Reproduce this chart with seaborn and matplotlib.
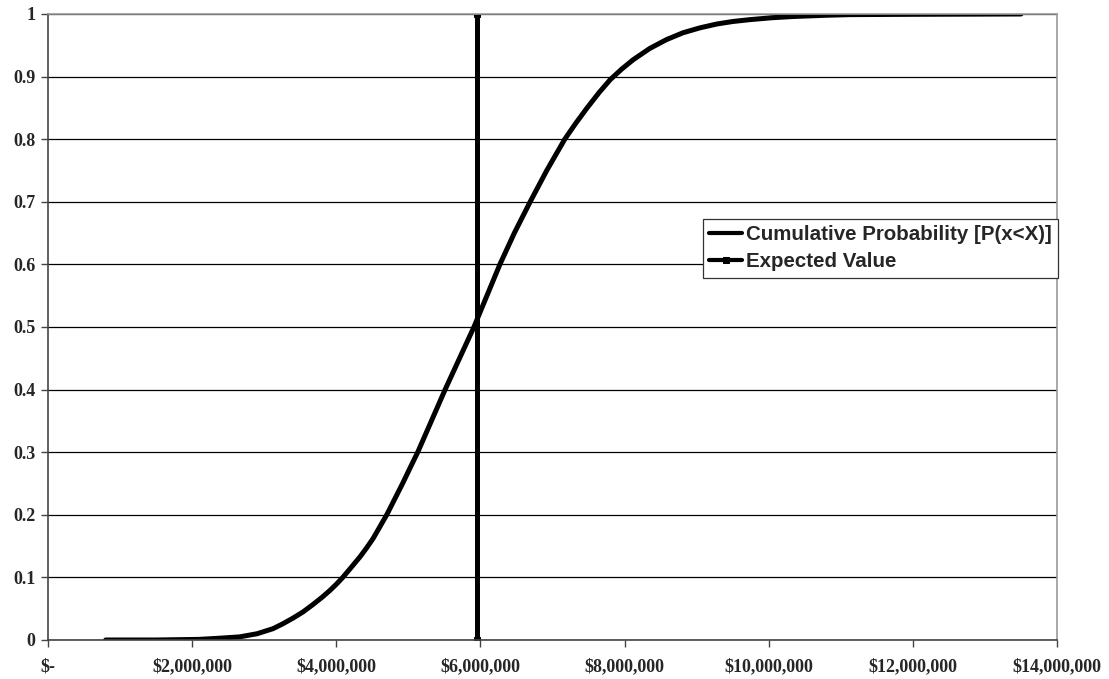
import matplotlib
matplotlib.use("Agg")
import matplotlib.pyplot as plt
import seaborn as sns
import pandas as pd
from matplotlib.ticker import FuncFormatter, MultipleLocator

# Data (x in dollars)
cum_x = [0.80e6, 1.50e6, 2.10e6, 2.40e6, 2.66e6, 2.90e6, 3.12e6, 3.26e6, 3.40e6,
         3.54e6, 3.68e6, 3.80e6, 3.91e6, 4.00e6, 4.09e6, 4.20e6, 4.33e6, 4.42e6,
         4.51e6, 4.60e6, 4.70e6, 4.81e6, 4.92e6, 5.02e6, 5.13e6, 5.32e6, 5.51e6,
         5.71e6, 5.91e6, 6.09e6, 6.27e6, 6.47e6, 6.69e6, 6.92e6, 7.17e6, 7.32e6,
         7.48e6, 7.65e6, 7.80e6, 7.96e6, 8.12e6, 8.35e6, 8.58e6, 8.81e6, 9.05e6,
         9.28e6, 9.50e6, 9.74e6, 10.04e6, 10.34e6, 10.80e6, 11.13e6, 12.00e6,
         13.50e6]
cum_y = [0.000, 0.000, 0.001, 0.003, 0.005, 0.010, 0.018, 0.026, 0.035,
         0.045, 0.057, 0.068, 0.079, 0.089, 0.100, 0.115, 0.133, 0.147,
         0.162, 0.180, 0.200, 0.225, 0.250, 0.274, 0.300, 0.350, 0.400,
         0.450, 0.500, 0.550, 0.600, 0.650, 0.700, 0.750, 0.800, 0.825,
         0.850, 0.875, 0.895, 0.912, 0.927, 0.945, 0.959, 0.970, 0.978,
         0.984, 0.988, 0.991, 0.994, 0.996, 0.998, 0.999, 0.9995,
         1.000]
ev_x = [5.95e6, 5.95e6]
ev_y = [0.0, 1.0]

cum_df = pd.DataFrame({"x": cum_x, "y": cum_y})
ev_df = pd.DataFrame({"x": ev_x, "y": ev_y})

sns.set_style("white")
plt.rcParams["font.family"] = ["Liberation Serif", "DejaVu Serif"]
plt.rcParams["font.weight"] = "bold"

fig = plt.figure(figsize=(11.09, 6.79), dpi=100)
ax = fig.add_axes([48 / 1109, 39 / 679, (1057 - 48) / 1109, (640 - 14) / 679])

sns.lineplot(data=cum_df, x="x", y="y", ax=ax, color="black", linewidth=3.6,
             label="Cumulative Probability [P(x<X)]", sort=False,
             estimator=None, errorbar=None)
sns.lineplot(data=ev_df, x="x", y="y", ax=ax, color="black", linewidth=3.6,
             marker="s", markersize=5, markeredgecolor="black",
             label="Expected Value", sort=False, estimator=None, errorbar=None)

ax.set_xlim(0, 14e6)
ax.set_ylim(0, 1)
ax.xaxis.set_major_locator(MultipleLocator(2e6))
ax.yaxis.set_major_locator(MultipleLocator(0.1))


def money(v, pos):
    if abs(v) < 1:
        return "$-"
    return "${:,.0f}".format(v)


def yfmt(v, pos):
    s = "{:.1f}".format(v)
    if s.endswith(".0"):
        s = s[:-2]
    return s


ax.xaxis.set_major_formatter(FuncFormatter(money))
ax.yaxis.set_major_formatter(FuncFormatter(yfmt))
ax.set_xlabel("")
ax.set_ylabel("")

ax.yaxis.grid(True, color="black", linewidth=0.9)
ax.xaxis.grid(False)
ax.set_axisbelow(True)

for side in ["left", "bottom"]:
    ax.spines[side].set_color("#444444")
    ax.spines[side].set_linewidth(1.2)
for side in ["right", "top"]:
    ax.spines[side].set_color("#999999")
    ax.spines[side].set_linewidth(1.2)

ax.tick_params(axis="both", which="major", direction="out", length=5,
               width=1, color="#444444", labelsize=13, left=True, bottom=True)
for lab in ax.get_xticklabels() + ax.get_yticklabels():
    lab.set_fontweight("bold")
ax.tick_params(axis="x", pad=8)
ax.tick_params(axis="y", pad=4)

leg = ax.legend(loc="upper left", bbox_to_anchor=((703 - 48) / 1009, (640 - 219) / 626),
                frameon=True, fancybox=False, framealpha=1, edgecolor="#333333",
                prop={"family": "Liberation Sans", "weight": "bold", "size": 14.8},
                handlelength=1.6, handletextpad=0.2, borderpad=0.3,
                labelspacing=0.4, borderaxespad=0)
leg.get_frame().set_linewidth(0.9)
for h in leg.get_lines():
    h.set_linewidth(3)

fig.savefig("out.png", dpi=100)
